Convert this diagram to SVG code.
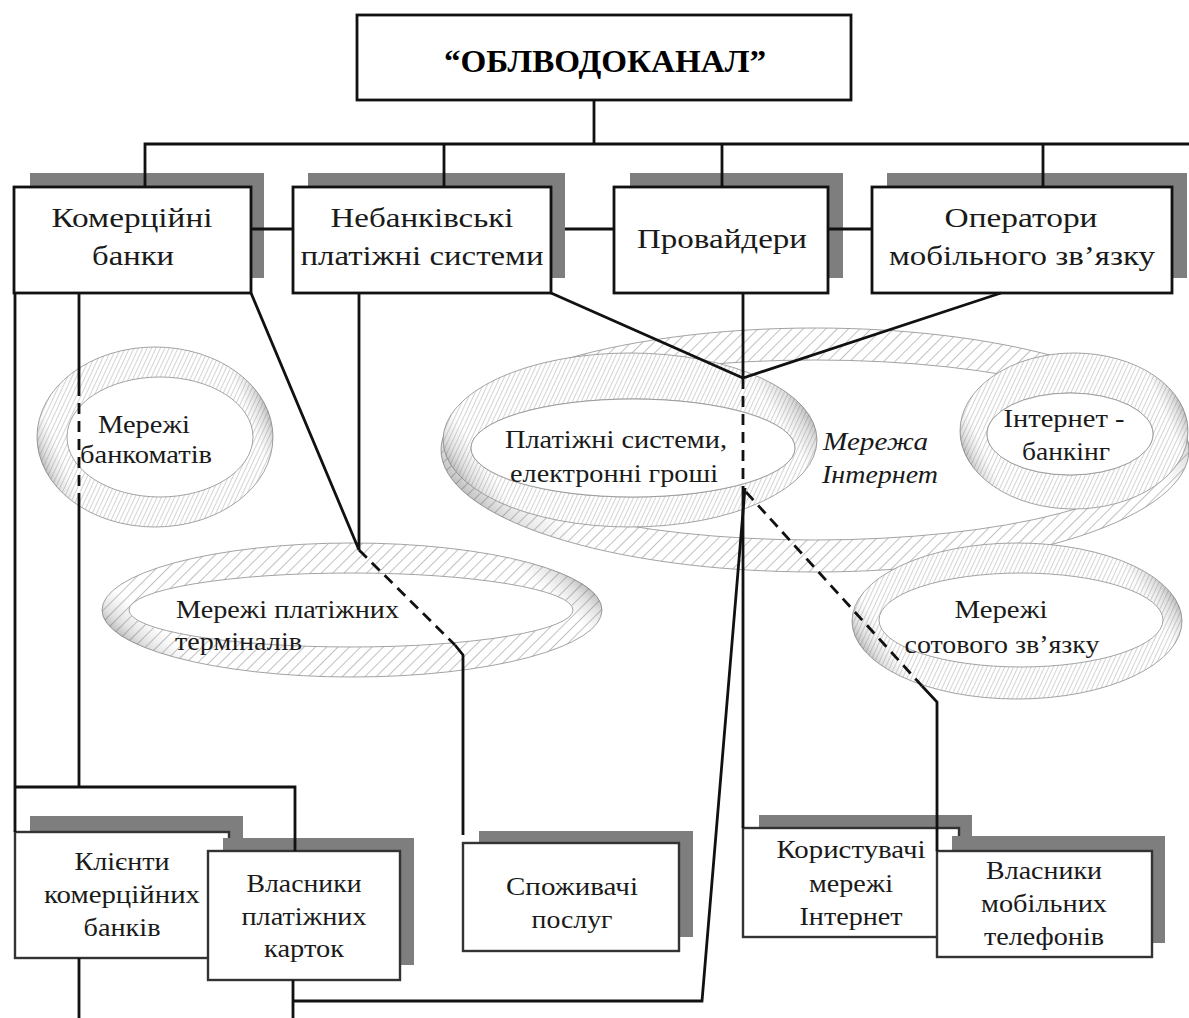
<svg xmlns="http://www.w3.org/2000/svg" width="1189" height="1018" viewBox="0 0 1189 1018">
<style>
.bx{fill:#fff;stroke:#111;stroke-width:2.8}
.bx2{fill:#fff;stroke:#333;stroke-width:2.4}
.sh{fill:#7e7e7e}
.t{font-family:"Liberation Serif","Times New Roman",serif;font-size:28px;fill:#1a1a1a;text-anchor:middle}
.s{font-size:26px}
.st{text-anchor:start}
.it{font-style:italic}
.ttl{font-weight:bold;font-size:32px;fill:#000}
.c{fill:none;stroke:#111;stroke-width:2.8}
.d{stroke-dasharray:11 7}
.bw{fill:url(#hw);stroke:#999;stroke-width:0.9;fill-rule:evenodd}
.bf{fill:url(#hf);stroke:#999;stroke-width:0.9;fill-rule:evenodd}
.gs{fill:url(#ends);stroke:none;fill-rule:evenodd}
.hole{fill:#fff;stroke:#999;stroke-width:0.9}
</style>
<defs>
<pattern id="hw" width="8" height="8" patternUnits="userSpaceOnUse" patternTransform="rotate(45)">
<rect width="8" height="8" fill="#fff"/>
<line x1="0" y1="0" x2="0" y2="8" stroke="#8e8e8e" stroke-width="1.1"/>
</pattern>
<pattern id="hf" width="4" height="4" patternUnits="userSpaceOnUse" patternTransform="rotate(25)">
<rect width="4" height="4" fill="#fff"/>
<line x1="0" y1="0" x2="0" y2="4" stroke="#a0a0a0" stroke-width="0.9"/>
</pattern>
<linearGradient id="ends" x1="0" y1="0.65" x2="1" y2="0.35">
<stop offset="0" stop-color="#333" stop-opacity="0.45"/>
<stop offset="0.05" stop-color="#666" stop-opacity="0.2"/>
<stop offset="0.11" stop-color="#888" stop-opacity="0"/>
<stop offset="0.89" stop-color="#888" stop-opacity="0"/>
<stop offset="0.95" stop-color="#666" stop-opacity="0.2"/>
<stop offset="1" stop-color="#333" stop-opacity="0.45"/>
</linearGradient>
</defs>
<rect width="1189" height="1018" fill="#fff"/>

<!-- rings -->
<g id="ring-internet">
<path class="bw" d="M441,450 a374,122 0 1,0 748,0 a374,122 0 1,0 -748,0 Z M470,450 a345,90 0 1,0 690,0 a345,90 0 1,0 -690,0 Z"/>
<path class="gs" d="M441,450 a374,122 0 1,0 748,0 a374,122 0 1,0 -748,0 Z M470,450 a345,90 0 1,0 690,0 a345,90 0 1,0 -690,0 Z"/>
<text class="t s st it" x="823" y="450" textLength="105" lengthAdjust="spacingAndGlyphs">Мережа</text>
<text class="t s st it" x="822" y="483" textLength="116" lengthAdjust="spacingAndGlyphs">Інтернет</text>
</g>
<g id="ring-payment">
<path class="bf" d="M443,440 a187,87 0 1,0 374,0 a187,87 0 1,0 -374,0 Z M471,448 a162,49 0 1,0 324,0 a162,49 0 1,0 -324,0 Z"/>
<path class="gs" d="M443,440 a187,87 0 1,0 374,0 a187,87 0 1,0 -374,0 Z M471,448 a162,49 0 1,0 324,0 a162,49 0 1,0 -324,0 Z"/>
<ellipse class="hole" cx="633" cy="448" rx="162" ry="49"/>
<text class="t s" x="616" y="448" textLength="222" lengthAdjust="spacingAndGlyphs">Платіжні системи,</text>
<text class="t s" x="614" y="482" textLength="208" lengthAdjust="spacingAndGlyphs">електронні гроші</text>
</g>
<g id="ring-ebanking">
<path class="bf" d="M960,431 a114,78 0 1,0 228,0 a114,78 0 1,0 -228,0 Z M987,434 a83,41 0 1,0 166,0 a83,41 0 1,0 -166,0 Z"/>
<path class="gs" d="M960,431 a114,78 0 1,0 228,0 a114,78 0 1,0 -228,0 Z M987,434 a83,41 0 1,0 166,0 a83,41 0 1,0 -166,0 Z"/>
<ellipse class="hole" cx="1070" cy="434" rx="83" ry="41"/>
<text class="t s" x="1064" y="427" textLength="121" lengthAdjust="spacingAndGlyphs">Інтернет -</text>
<text class="t s" x="1066" y="460" textLength="88" lengthAdjust="spacingAndGlyphs">банкінг</text>
</g>
<g id="ring-atm">
<path class="bf" d="M37,437 a118,90 0 1,0 236,0 a118,90 0 1,0 -236,0 Z M67,437 a93,60 0 1,0 186,0 a93,60 0 1,0 -186,0 Z"/>
<path class="gs" d="M37,437 a118,90 0 1,0 236,0 a118,90 0 1,0 -236,0 Z M67,437 a93,60 0 1,0 186,0 a93,60 0 1,0 -186,0 Z"/>
<text class="t s" x="144" y="433" textLength="92" lengthAdjust="spacingAndGlyphs">Мережі</text>
<text class="t s" x="146" y="463" textLength="132" lengthAdjust="spacingAndGlyphs">банкоматів</text>
</g>
<g id="ring-terminals">
<path class="bw" d="M102,610 a250,67 0 1,0 500,0 a250,67 0 1,0 -500,0 Z M129,610 a222,37 0 1,0 444,0 a222,37 0 1,0 -444,0 Z"/>
<path class="gs" d="M102,610 a250,67 0 1,0 500,0 a250,67 0 1,0 -500,0 Z M129,610 a222,37 0 1,0 444,0 a222,37 0 1,0 -444,0 Z"/>
<text class="t s st" x="176" y="618" textLength="223" lengthAdjust="spacingAndGlyphs">Мережі платіжних</text>
<text class="t s st" x="175" y="650" textLength="127" lengthAdjust="spacingAndGlyphs">терміналів</text>
</g>
<g id="ring-cellular">
<path class="bf" d="M852,621 a165,78 0 1,0 330,0 a165,78 0 1,0 -330,0 Z M879,620 a142,47 0 1,0 284,0 a142,47 0 1,0 -284,0 Z"/>
<path class="gs" d="M852,621 a165,78 0 1,0 330,0 a165,78 0 1,0 -330,0 Z M879,620 a142,47 0 1,0 284,0 a142,47 0 1,0 -284,0 Z"/>
<text class="t s" x="1001" y="618" textLength="93" lengthAdjust="spacingAndGlyphs">Мережі</text>
<text class="t s" x="1002" y="653" textLength="195" lengthAdjust="spacingAndGlyphs">сотового зв’язку</text>
</g>

<!-- nodes -->
<g id="oblvodokanal">
<rect class="bx" x="357" y="15" width="494" height="85"/>
<text class="t ttl" x="605" y="72" textLength="322" lengthAdjust="spacingAndGlyphs">“ОБЛВОДОКАНАЛ”</text>
</g>
<g id="commercial-banks">
<rect class="sh" x="30" y="173" width="234" height="105"/>
<rect class="bx" x="14" y="187" width="237" height="106"/>
<text class="t" x="132" y="227" textLength="161" lengthAdjust="spacingAndGlyphs">Комерційні</text>
<text class="t" x="133" y="265" textLength="82" lengthAdjust="spacingAndGlyphs">банки</text>
</g>
<g id="nonbank-payment-systems">
<rect class="sh" x="308" y="173" width="257" height="105"/>
<rect class="bx" x="293" y="187" width="258" height="106"/>
<text class="t" x="422" y="227" textLength="183" lengthAdjust="spacingAndGlyphs">Небанківські</text>
<text class="t" x="422" y="265" textLength="243" lengthAdjust="spacingAndGlyphs">платіжні системи</text>
</g>
<g id="providers">
<rect class="sh" x="630" y="173" width="213" height="105"/>
<rect class="bx" x="614" y="187" width="214" height="106"/>
<text class="t" x="722" y="248" textLength="170" lengthAdjust="spacingAndGlyphs">Провайдери</text>
</g>
<g id="mobile-operators">
<rect class="sh" x="887" y="173" width="300" height="105"/>
<rect class="bx" x="872" y="187" width="300" height="106"/>
<text class="t" x="1021" y="227" textLength="153" lengthAdjust="spacingAndGlyphs">Оператори</text>
<text class="t" x="1022" y="265" textLength="266" lengthAdjust="spacingAndGlyphs">мобільного зв’язку</text>
</g>
<g id="bank-clients">
<rect class="sh" x="30" y="816" width="213" height="124"/>
<rect class="bx2" x="15" y="832" width="214" height="126"/>
<text class="t s" x="122" y="870" textLength="95" lengthAdjust="spacingAndGlyphs">Клієнти</text>
<text class="t s" x="122" y="903" textLength="156" lengthAdjust="spacingAndGlyphs">комерційних</text>
<text class="t s" x="122" y="936" textLength="77" lengthAdjust="spacingAndGlyphs">банків</text>
</g>
<g id="card-holders">
<rect class="sh" x="223" y="838" width="191" height="127"/>
<rect class="bx2" x="208" y="851" width="192" height="129"/>
<text class="t s" x="304" y="892" textLength="115" lengthAdjust="spacingAndGlyphs">Власники</text>
<text class="t s" x="304" y="925" textLength="125" lengthAdjust="spacingAndGlyphs">платіжних</text>
<text class="t s" x="304" y="957" textLength="80" lengthAdjust="spacingAndGlyphs">карток</text>
</g>
<g id="service-consumers">
<rect class="sh" x="479" y="831" width="214" height="106"/>
<rect class="bx2" x="463" y="843" width="216" height="108"/>
<text class="t s" x="572" y="895" textLength="132" lengthAdjust="spacingAndGlyphs">Споживачі</text>
<text class="t s" x="572" y="928" textLength="81" lengthAdjust="spacingAndGlyphs">послуг</text>
</g>
<g id="internet-users">
<rect class="sh" x="759" y="815" width="213" height="105"/>
<rect class="bx2" x="743" y="828" width="216" height="109"/>
<text class="t s" x="851" y="858" textLength="149" lengthAdjust="spacingAndGlyphs">Користувачі</text>
<text class="t s" x="851" y="892" textLength="84" lengthAdjust="spacingAndGlyphs">мережі</text>
<text class="t s" x="851" y="925" textLength="103" lengthAdjust="spacingAndGlyphs">Інтернет</text>
</g>
<g id="phone-owners">
<rect class="sh" x="952" y="836" width="213" height="107"/>
<rect class="bx2" x="937" y="851" width="215" height="106"/>
<text class="t s" x="1044" y="879" textLength="116" lengthAdjust="spacingAndGlyphs">Власники</text>
<text class="t s" x="1044" y="912" textLength="126" lengthAdjust="spacingAndGlyphs">мобільних</text>
<text class="t s" x="1044" y="945" textLength="120" lengthAdjust="spacingAndGlyphs">телефонів</text>
</g>

<!-- connectors -->
<g id="connectors">
<path class="c" d="M594,100 V144 M145,187 V144 H1189 M444,144 V187 M722,144 V187 M1043,144 V187"/>
<path class="c" d="M251,229 H293 M565,229 H614 M828,229 H872"/>
<path class="c" d="M15,293 V832 M79,293 V385 M79,497 V787 M15,787 H295 V851"/>
<path class="c d" d="M79,385 V497"/>
<path class="c" d="M251,293 L359,550 M359,293 V550 M455,645 L463,655 V835"/>
<path class="c d" d="M359,550 L455,645"/>
<path class="c" d="M551,293 L743,378 L1001,293 M743,293 V378 M743,488 V828"/>
<path class="c d" d="M743,378 V488"/>
<path class="c" d="M745,488 L702,1001 H293 M293,980 V1018 M79,958 V1018"/>
<path class="c d" d="M746,492 L922,686"/>
<path class="c" d="M922,686 L937,702 V851"/>
</g>
</svg>
